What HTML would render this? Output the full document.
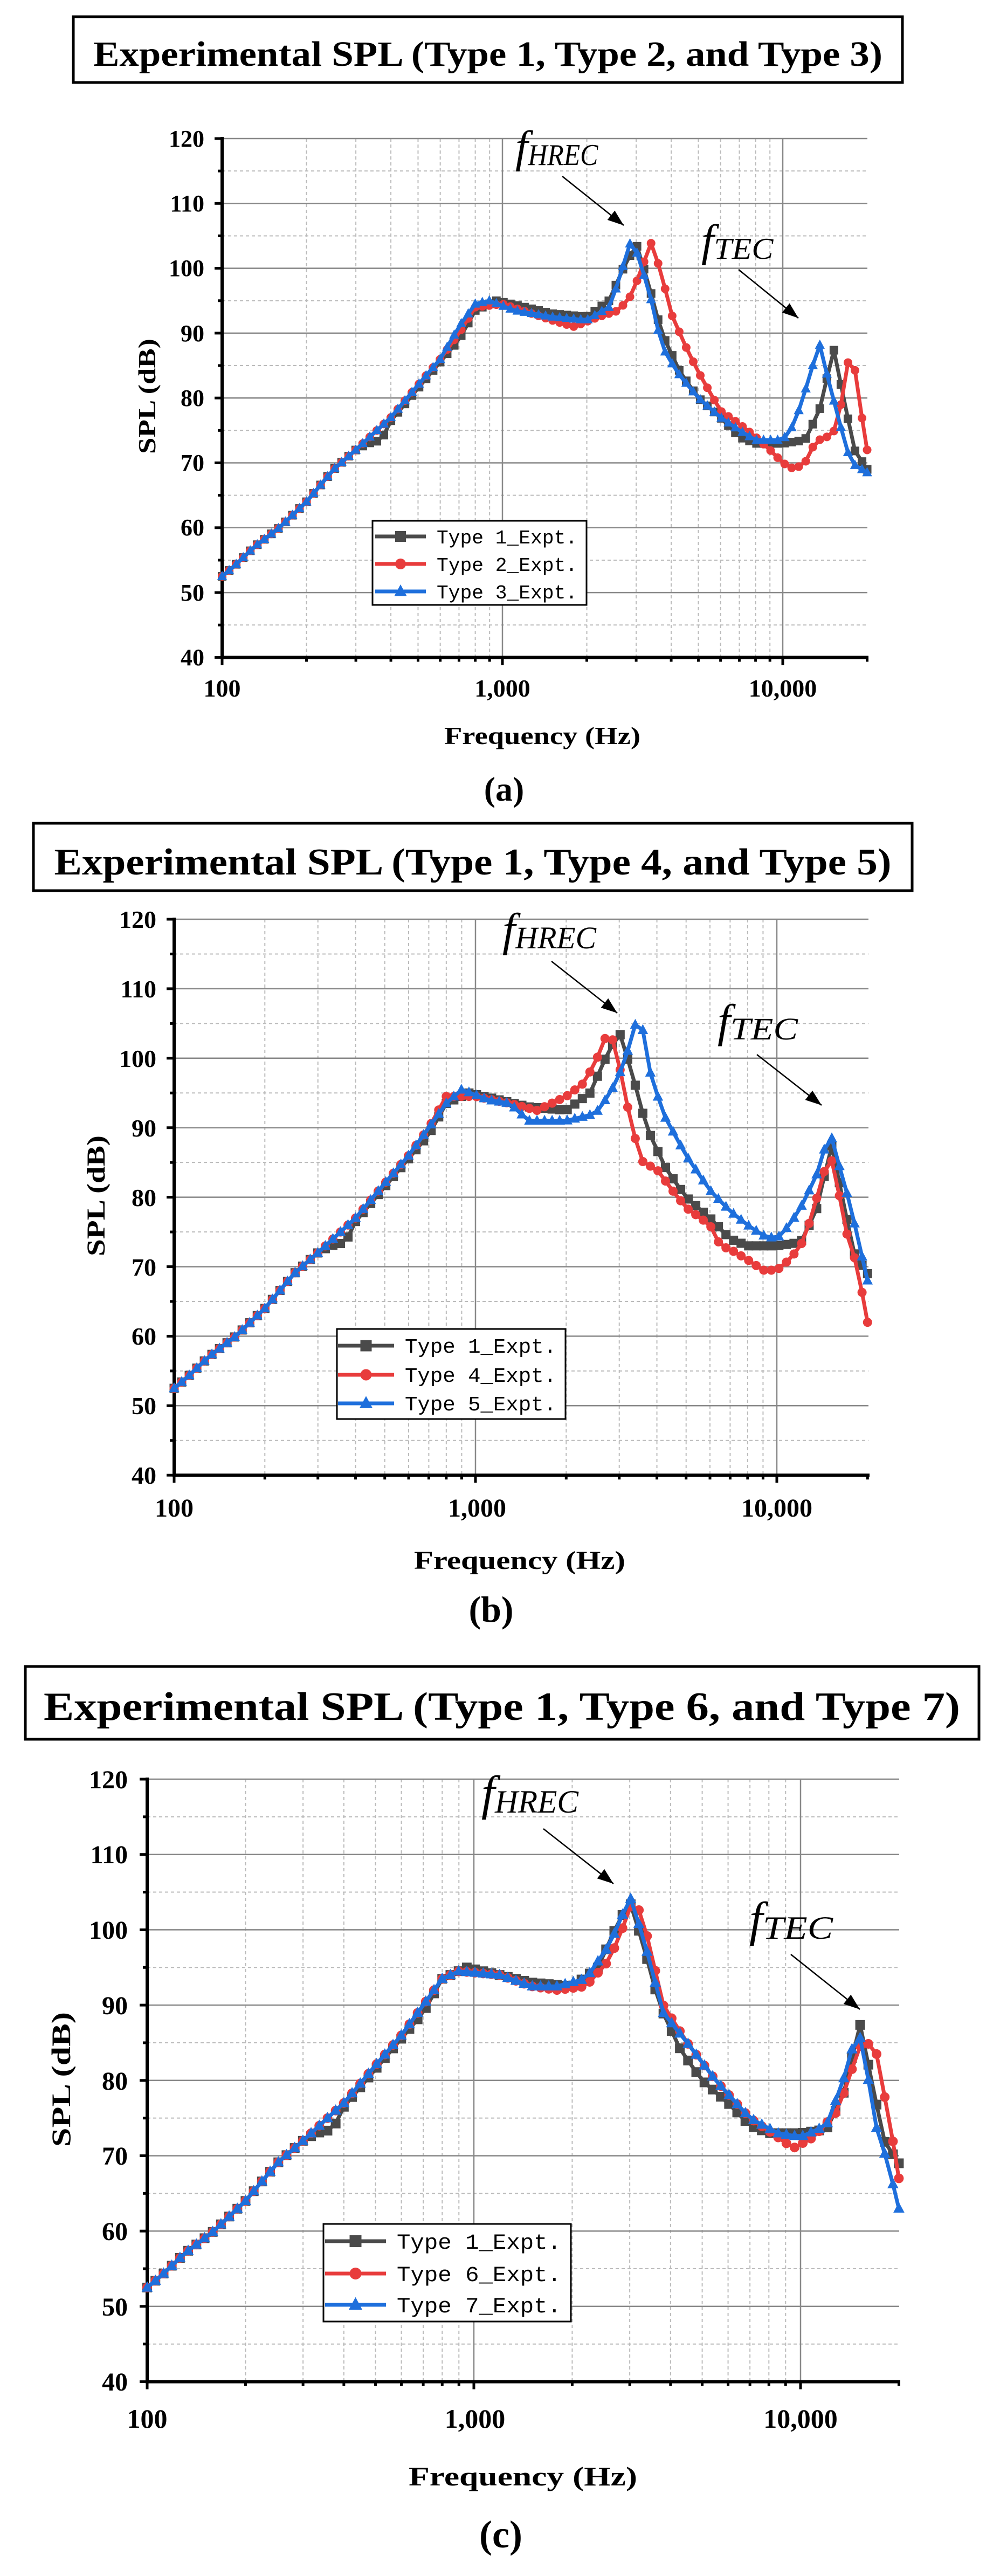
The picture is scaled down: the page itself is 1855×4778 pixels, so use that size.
<!DOCTYPE html>
<html><head><meta charset="utf-8"><style>
html,body{margin:0;padding:0;background:#fff}
svg{display:block}
.t{font-family:"Liberation Serif",serif;font-weight:bold;fill:#000}
.lg{font-family:"Liberation Mono",monospace;fill:#000}
.fi{font-family:"Liberation Serif",serif;font-style:italic;fill:#000}
</style></head><body>
<svg id="s" xmlns="http://www.w3.org/2000/svg" width="1855" height="4778" viewBox="0 0 1855 4778">
<rect width="1855" height="4778" fill="#fff"/>
<g id="ga"></g><g id="gb"></g><g id="gc"></g>

<!-- Panel a -->
<rect x="136" y="31" width="1538" height="122" fill="none" stroke="#000" stroke-width="5"/>
<text class="t" x="905" y="122" font-size="66" text-anchor="middle" textLength="1464" lengthAdjust="spacingAndGlyphs">Experimental SPL (Type 1, Type 2, and Type 3)</text>
<g class="t" font-size="44" text-anchor="end">
<text x="379" y="272">120</text><text x="379" y="392">110</text><text x="379" y="512">100</text><text x="379" y="633">90</text><text x="379" y="753">80</text><text x="379" y="873">70</text><text x="379" y="993">60</text><text x="379" y="1114">50</text><text x="379" y="1234">40</text>
</g>
<g class="t" font-size="46" text-anchor="middle">
<text x="412" y="1292">100</text><text x="932" y="1292">1,000</text><text x="1452" y="1292">10,000</text>
<text x="1006" y="1380" textLength="364" lengthAdjust="spacingAndGlyphs">Frequency (Hz)</text>
<text transform="translate(288,735) rotate(-90)" textLength="214" lengthAdjust="spacingAndGlyphs">SPL (dB)</text>
</g>
<text class="t" x="935" y="1485" font-size="64" text-anchor="middle">(a)</text>
<text class="fi" x="956" y="300" font-size="84">f<tspan font-size="56" dy="6" textLength="130" lengthAdjust="spacingAndGlyphs">HREC</tspan></text>
<text class="fi" x="1301" y="474" font-size="84">f<tspan font-size="56" dy="6" textLength="110" lengthAdjust="spacingAndGlyphs">TEC</tspan></text>
<rect x="691" y="966" width="397" height="156" fill="#fff" stroke="#000" stroke-width="3"/>
<g class="lg" font-size="36">
<text x="810" y="1008" textLength="261" lengthAdjust="spacingAndGlyphs">Type 1_Expt.</text>
<text x="810" y="1059" textLength="261" lengthAdjust="spacingAndGlyphs">Type 2_Expt.</text>
<text x="810" y="1110" textLength="261" lengthAdjust="spacingAndGlyphs">Type 3_Expt.</text>
</g>

<!-- Panel b -->
<rect x="62" y="1527" width="1630" height="125" fill="none" stroke="#000" stroke-width="5"/>
<text class="t" x="877" y="1622" font-size="70" text-anchor="middle" textLength="1553" lengthAdjust="spacingAndGlyphs">Experimental SPL (Type 1, Type 4, and Type 5)</text>
<g class="t" font-size="46" text-anchor="end">
<text x="290" y="1721">120</text><text x="290" y="1850">110</text><text x="290" y="1979">100</text><text x="290" y="2108">90</text><text x="290" y="2237">80</text><text x="290" y="2366">70</text><text x="290" y="2494">60</text><text x="290" y="2623">50</text><text x="290" y="2752">40</text>
</g>
<g class="t" font-size="48" text-anchor="middle">
<text x="323" y="2813">100</text><text x="885" y="2813">1,000</text><text x="1441" y="2813">10,000</text>
<text x="964" y="2910" textLength="392" lengthAdjust="spacingAndGlyphs">Frequency (Hz)</text>
<text transform="translate(194,2218) rotate(-90)" textLength="224" lengthAdjust="spacingAndGlyphs">SPL (dB)</text>
</g>
<text class="t" x="911" y="3008" font-size="68" text-anchor="middle">(b)</text>
<text class="fi" x="932" y="1753" font-size="86">f<tspan font-size="58" dy="6" textLength="150" lengthAdjust="spacingAndGlyphs">HREC</tspan></text>
<text class="fi" x="1331" y="1922" font-size="86">f<tspan font-size="58" dy="6" textLength="125" lengthAdjust="spacingAndGlyphs">TEC</tspan></text>
<rect x="625" y="2465" width="424" height="167" fill="#fff" stroke="#000" stroke-width="3"/>
<g class="lg" font-size="38">
<text x="751" y="2509" textLength="281" lengthAdjust="spacingAndGlyphs">Type 1_Expt.</text>
<text x="751" y="2563" textLength="281" lengthAdjust="spacingAndGlyphs">Type 4_Expt.</text>
<text x="751" y="2616" textLength="281" lengthAdjust="spacingAndGlyphs">Type 5_Expt.</text>
</g>

<!-- Panel c -->
<rect x="47" y="3091" width="1769" height="135" fill="none" stroke="#000" stroke-width="5"/>
<text class="t" x="931" y="3190" font-size="74" text-anchor="middle" textLength="1700" lengthAdjust="spacingAndGlyphs">Experimental SPL (Type 1, Type 6, and Type 7)</text>
<g class="t" font-size="48" text-anchor="end">
<text x="237" y="3317">120</text><text x="237" y="3456">110</text><text x="237" y="3596">100</text><text x="237" y="3736">90</text><text x="237" y="3876">80</text><text x="237" y="4015">70</text><text x="237" y="4155">60</text><text x="237" y="4295">50</text><text x="237" y="4434">40</text>
</g>
<g class="t" font-size="50" text-anchor="middle">
<text x="273" y="4503">100</text><text x="881" y="4503">1,000</text><text x="1485" y="4503">10,000</text>
<text x="970" y="4610" textLength="424" lengthAdjust="spacingAndGlyphs">Frequency (Hz)</text>
<text transform="translate(130,3857) rotate(-90)" textLength="250" lengthAdjust="spacingAndGlyphs">SPL (dB)</text>
</g>
<text class="t" x="929" y="4725" font-size="72" text-anchor="middle">(c)</text>
<text class="fi" x="893" y="3356" font-size="90">f<tspan font-size="60" dy="6" textLength="155" lengthAdjust="spacingAndGlyphs">HREC</tspan></text>
<text class="fi" x="1390" y="3590" font-size="90">f<tspan font-size="60" dy="6" textLength="130" lengthAdjust="spacingAndGlyphs">TEC</tspan></text>
<rect x="600" y="4125" width="459" height="181" fill="#fff" stroke="#000" stroke-width="3"/>
<g class="lg" font-size="40">
<text x="736" y="4171" textLength="305" lengthAdjust="spacingAndGlyphs">Type 1_Expt.</text>
<text x="736" y="4231" textLength="305" lengthAdjust="spacingAndGlyphs">Type 6_Expt.</text>
<text x="736" y="4289" textLength="305" lengthAdjust="spacingAndGlyphs">Type 7_Expt.</text>
</g>
</svg>
<script>
(function(){
var NS="http://www.w3.org/2000/svg";
function el(p,n,a){var e=document.createElementNS(NS,n);for(var k in a)e.setAttribute(k,a[k]);p.appendChild(e);return e;}
var C=["#4a4a4a","#e83c3c","#1e6fdc"];
var low=[[100,52.5],[110,54],[130,57],[160,60],[200,64],[250,69],[300,72],[400,77],[500,82],[600,86],[700,90],[800,93.5],[900,94.8],[1000,95]];
function mk(pts){return low.filter(function(p){return p[0]<pts[0][0];}).concat(pts);}
var t1=[[300,72],[330,73],[370,73.5],[400,76.5],[500,81.5],[700,89],[800,93.5],[950,95],[1200,94],[1500,93],[2000,92.5],[2400,95],[2700,100],[3000,103.8],[3300,98],[3700,90],[4300,84],[5000,80],[6000,77],[7000,74],[8000,73],[10000,73],[12000,73.5],[13500,78],[15200,87.5],[16500,80],[18000,72],[20000,69]];
var A=[mk(t1),
mk([[800,94],[1000,94.5],[1500,92],[1800,91],[2200,92.5],[2600,93.5],[2900,96],[3200,101],[3400,104],[3700,99],[4000,93],[4500,88],[5000,84],[6000,78],[7000,76],[8000,74],[9000,72],[10000,70],[11000,69],[12000,70],[13000,73],[14000,74],[15000,74],[16000,78],[17000,85.5],[18000,85],[19000,78],[20000,72]]),
mk([[700,91],[800,94.5],[900,95],[1100,93.5],[1500,92.5],[2000,92],[2400,94],[2600,98],[2800,103],[2900,104.5],[3100,101],[3400,95],[3700,88],[4200,84],[5000,80],[6000,77],[7000,75],[8000,73.5],[10000,73.5],[11000,76],[12000,81],[13000,86],[13500,88.5],[14500,83],[16000,76],[17500,70],[20000,68.5]])];
var B=[mk(t1),
mk([[800,94.5],[1000,94.5],[1300,93.5],[1600,92.5],[2000,94.5],[2300,96.5],[2600,101],[2750,104],[2900,102],[3100,96],[3300,90],[3600,85],[4000,84],[4500,81],[5000,78.5],[6000,76],[6500,73],[7000,72.5],[8000,71],[9000,69.5],[10000,69.5],[11000,71],[12000,73],[13000,77],[14000,82],[15000,86.5],[16000,81],[17000,75],[18500,70],[20000,62]]),
mk([[900,95.5],[1100,94],[1300,93.5],[1500,91],[2000,91],[2500,92],[2800,95],[3100,99],[3400,105],[3600,104],[3800,98],[4200,92],[5000,86],[6000,81],[7000,78],[8000,76],[9000,74.5],[10000,74],[11000,76],[12000,78.5],[13500,83],[15000,89.5],[16000,85],[17500,79],[20000,68]])];
var Cc=[mk(t1),
mk([[900,94.5],[1200,94],[1500,92.5],[1800,92],[2200,92.5],[2600,96],[2900,101],[3100,104.5],[3400,99],[3800,90],[4500,85],[5500,80],[7000,75],[8500,72.5],[9500,71],[11000,72.5],[13000,76],[14500,82],[15500,85.5],[17000,84],[19000,73],[20000,67]]),
mk([[900,94.5],[1200,94],[1500,92.5],[1800,92.5],[2200,93.5],[2600,98],[2850,102],[3000,104.5],[3300,99],[3800,89],[4500,85],[5500,80],[7000,75],[8500,73],[10000,72.5],[12000,74],[13500,80],[15000,87],[16000,81],[17000,74],[18500,69],[20000,63]])];
function interp(pts,f){var L=Math.log10(f);for(var i=0;i<pts.length-1;i++){var a=Math.log10(pts[i][0]),b=Math.log10(pts[i+1][0]);if(L>=a&&L<=b){return pts[i][1]+(pts[i+1][1]-pts[i][1])*(L-a)/(b-a);}}return pts[pts.length-1][1];}
function marker(g,si,x,y,s){
if(si==0)el(g,"rect",{x:x-s,y:y-s,width:2*s,height:2*s,fill:C[0]});
else if(si==1)el(g,"circle",{cx:x,cy:y,r:s,fill:C[1]});
else el(g,"polygon",{points:[x,y-s*1.3,x-s*1.15,y+s*0.85,x+s*1.15,y+s*0.85].join(","),fill:C[2]});}
function panel(g,c){
var X=function(f){return c.x0+c.dec*Math.log10(f/100);},Y=function(d){return c.yT+(120-d)*c.px;};
var xR=c.xR,yB=Y(40);
for(var d=45;d<120;d+=10)el(g,"line",{x1:c.x0,x2:xR,y1:Y(d),y2:Y(d),stroke:"#bbb","stroke-width":2,"stroke-dasharray":"6 5"});
[200,300,400,500,600,700,800,900,2000,3000,4000,5000,6000,7000,8000,9000,20000].forEach(function(f){if(X(f)<xR-2)el(g,"line",{x1:X(f),x2:X(f),y1:c.yT,y2:yB,stroke:"#bbb","stroke-width":2,"stroke-dasharray":"6 5"});});
for(var d=50;d<=120;d+=10)el(g,"line",{x1:c.x0,x2:xR,y1:Y(d),y2:Y(d),stroke:"#888","stroke-width":2.5});
[1000,10000].forEach(function(f){el(g,"line",{x1:X(f),x2:X(f),y1:c.yT,y2:yB,stroke:"#888","stroke-width":2.5});});
el(g,"line",{x1:c.x0,x2:c.x0,y1:c.yT-3,y2:yB+3,stroke:"#000","stroke-width":6});
el(g,"line",{x1:c.x0-3,x2:xR+2,y1:yB,y2:yB,stroke:"#000","stroke-width":6});
for(var d=40;d<=120;d+=5)el(g,"line",{x1:c.x0-(d%10?8:14),x2:c.x0,y1:Y(d),y2:Y(d),stroke:"#000","stroke-width":5});
[100,200,300,400,500,600,700,800,900,1000,2000,3000,4000,5000,6000,7000,8000,9000,10000,20000].forEach(function(f){var big=(f==100||f==1000||f==10000);el(g,"line",{x1:X(f),x2:X(f),y1:yB,y2:yB+(big?14:8),stroke:"#000","stroke-width":5});});
var N=92;
c.S.forEach(function(pts,si){
var P=[];for(var i=0;i<=N;i++){var f=100*Math.pow(2,i/12);if(f>20000)f=20000;P.push([X(f),Y(interp(pts,f))]);}
el(g,"polyline",{points:P.map(function(p){return p[0].toFixed(1)+","+p[1].toFixed(1);}).join(" "),fill:"none",stroke:C[si],"stroke-width":7,"stroke-linejoin":"round"});
P.forEach(function(p){marker(g,si,p[0],p[1],c.m);});
});
c.ar.forEach(function(a){el(g,"line",{x1:a[0],y1:a[1],x2:a[2],y2:a[3],stroke:"#000","stroke-width":2.5});
var ang=Math.atan2(a[3]-a[1],a[2]-a[0]),L=30,W=11;var bx=a[2]-L*Math.cos(ang),by=a[3]-L*Math.sin(ang);
el(g,"polygon",{points:[a[2],a[3],bx-W*Math.sin(ang),by+W*Math.cos(ang),bx+W*Math.sin(ang),by-W*Math.cos(ang)].join(","),fill:"#000"});});
}
var s=document.getElementById("s");
panel(document.getElementById("ga"),{x0:412,dec:520,yT:257,px:12.03,xR:1609,S:A,m:8,ar:[[1043,327,1157,418],[1370,500,1481,590]]});
panel(document.getElementById("gb"),{x0:323,dec:559,yT:1705,px:12.89,xR:1611,S:B,m:8.5,ar:[[1023,1783,1145,1879],[1404,1956,1524,2050]]});
panel(document.getElementById("gc"),{x0:273,dec:606,yT:3300,px:13.97,xR:1668,S:Cc,m:9,ar:[[1008,3392,1138,3494],[1467,3625,1595,3727]]});
var items=[].slice.call(s.querySelectorAll("rect[stroke-width='3'], g.lg"));
items.forEach(function(e){s.appendChild(e);});
var cfg=[[[995,1046,1097],696,790,10],[[2496,2550,2603],627,731,10.5],[[4157,4217,4275],603,716,11]];
var top=el(s,"g",{});
cfg.forEach(function(c){c[0].forEach(function(y,si){el(top,"line",{x1:c[1],x2:c[2],y1:y,y2:y,stroke:C[si],"stroke-width":7});marker(top,si,(c[1]+c[2])/2,y,c[3]);});});
})();
</script>
</body></html>
